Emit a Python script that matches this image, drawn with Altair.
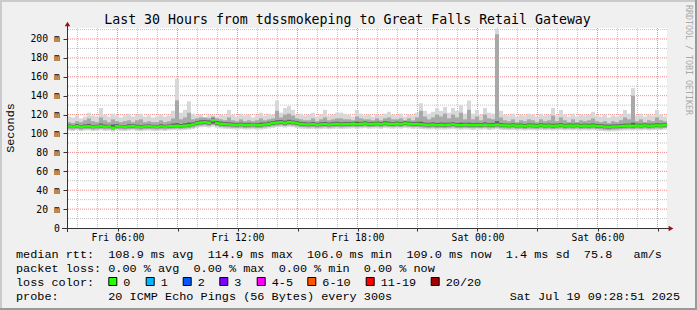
import altair as alt
import pandas as pd

# ---------------- data ----------------
T_START = 3.475          # hours since Fri 00:00  (Fri 03:28:51)
T_END = 33.475           # Sat 09:28:51
STEP_H = 0.2             # one sample every 12 minutes
Y_MAX = 211.64           # ms, top of plot

median_ms = [
    107.5, 107.2, 107.8, 107.0, 107.4, 107.6, 107.1, 107.3, 107.9, 107.2,
    107.4, 106.0, 107.6, 107.3, 107.1, 107.5, 107.8, 107.2, 107.0, 107.4,
    107.6, 107.3, 107.1, 107.5, 107.2, 107.7, 107.9, 108.2, 107.8, 108.3,
    108.6, 109.5, 110.8, 111.6, 112.0, 111.4, 114.0, 111.0, 110.2, 109.8,
    109.6, 109.2, 109.0, 109.4, 108.9, 109.1, 109.3, 108.8, 109.0, 109.5,
    110.2, 110.9, 111.5, 111.8, 111.2, 112.0, 111.6, 110.8, 110.0, 109.7,
    109.5, 109.8, 109.3, 109.6, 109.9, 109.4, 109.7, 110.1, 109.6, 109.8,
    110.0, 110.3, 109.8, 110.2, 110.5, 109.9, 110.1, 110.4, 109.8, 110.6,
    110.2, 109.9, 110.4, 110.0, 110.7, 110.3, 109.8, 110.1, 109.6, 109.3,
    109.1, 109.4, 108.9, 109.2, 109.0, 109.3, 109.6, 109.0, 108.8, 109.2,
    109.0, 108.7, 109.1, 108.9, 109.3, 108.6, 108.9, 109.4, 108.7, 108.5,
    108.3, 108.6, 108.2, 108.4, 108.0, 108.5, 108.3, 108.1, 108.6, 108.2,
    108.4, 108.0, 108.3, 108.6, 108.1, 108.4, 108.2, 108.5, 108.0, 108.3,
    108.1, 108.4, 107.9, 107.6, 107.2, 107.0, 107.3, 107.4, 107.8, 108.1,
    108.3, 108.0, 108.4, 108.2, 108.5, 108.1, 108.3, 108.6, 108.4, 109.0,
]

hi_outer = [
    118, 117, 119, 116, 118, 122, 119, 118, 127, 120,
    118, 121, 119, 117, 119, 121, 118, 120, 121, 118,
    119, 117, 118, 120, 118, 119, 124, 158, 122, 125,
    134, 121, 119, 120, 117, 119, 119, 118, 120, 119,
    125, 120, 118, 121, 119, 120, 117, 119, 122, 119,
    121, 120, 135, 122, 127, 129, 125, 120, 121, 119,
    120, 122, 118, 120, 125, 119, 120, 122, 122, 121,
    120, 118, 125, 121, 119, 120, 118, 120, 119, 121,
    123, 120, 119, 121, 118, 120, 119, 122, 132, 124,
    121, 123, 127, 124, 128, 122, 127, 124, 130, 121,
    135, 121, 125, 120, 127, 122, 121, 211, 124, 120,
    119, 121, 118, 120, 119, 121, 120, 118, 121, 119,
    120, 127, 119, 125, 120, 118, 121, 118, 120, 119,
    120, 123, 119, 118, 120, 117, 119, 118, 120, 125,
    121, 148, 119, 121, 118, 120, 119, 125, 120, 118,
]

hi_mid = [
    112, 111, 113, 112, 114, 116, 113, 112, 117, 114,
    112, 115, 113, 112, 113, 114, 112, 114, 115, 112,
    113, 112, 112, 114, 112, 113, 116, 135, 115, 117,
    122, 115, 116, 117, 117, 116, 118, 116, 115, 114,
    117, 114, 113, 115, 113, 114, 113, 114, 116, 114,
    115, 116, 124, 117, 120, 121, 119, 116, 115, 114,
    114, 116, 113, 115, 117, 114, 115, 116, 116, 115,
    115, 114, 118, 116, 115, 115, 114, 116, 114, 116,
    117, 115, 115, 116, 114, 116, 114, 117, 124, 118,
    115, 117, 120, 118, 121, 116, 120, 117, 122, 115,
    125, 115, 118, 114, 120, 116, 115, 205, 117, 114,
    113, 115, 112, 114, 113, 115, 114, 112, 115, 113,
    114, 119, 113, 117, 114, 112, 115, 112, 114, 113,
    114, 116, 113, 112, 113, 111, 113, 112, 114, 117,
    115, 140, 113, 115, 112, 114, 113, 117, 114, 113,
]

hi_inner = [
    109.5, 109.0, 110.0, 108.8, 109.6, 110.2, 109.0, 109.2, 110.5, 109.4,
    109.2, 109.5, 109.8, 109.0, 108.9, 109.8, 109.7, 109.3, 109.0, 109.4,
    109.6, 109.1, 109.0, 109.8, 109.1, 109.6, 110.5, 111.0, 110.0, 110.8,
    111.5, 111.8, 113.0, 114.0, 114.2, 113.8, 116.0, 113.2, 112.5, 112.0,
    111.8, 111.4, 111.0, 111.6, 110.9, 111.3, 111.2, 110.8, 111.5, 111.7,
    112.5, 113.0, 114.0, 114.2, 113.6, 114.5, 113.8, 113.0, 112.2, 111.9,
    111.5, 112.0, 111.3, 111.8, 112.2, 111.5, 111.9, 112.4, 111.8, 112.0,
    112.2, 112.4, 112.5, 112.3, 112.8, 112.0, 112.3, 112.6, 112.0, 113.0,
    112.5, 112.0, 112.6, 112.2, 112.9, 112.5, 112.0, 112.4, 112.5, 111.6,
    111.3, 111.8, 111.2, 111.6, 111.4, 111.5, 111.9, 111.2, 111.5, 111.4,
    111.5, 110.9, 111.4, 111.0, 111.8, 110.8, 111.2, 113.0, 111.0, 110.6,
    110.4, 110.8, 110.3, 110.6, 110.1, 110.7, 110.5, 110.2, 110.8, 110.4,
    110.6, 110.3, 110.5, 110.9, 110.2, 110.6, 110.4, 110.7, 110.2, 110.5,
    110.3, 110.7, 110.1, 109.8, 109.4, 109.2, 109.5, 109.6, 110.0, 110.4,
    110.5, 111.5, 110.6, 110.4, 110.7, 110.3, 110.5, 110.9, 110.6, 111.0,
]

lo_inner = [
    106.0, 105.8, 106.3, 105.6, 106.0, 106.1, 105.7, 105.9, 106.4, 105.8,
    106.0, 105.2, 106.1, 105.9, 105.7, 106.0, 106.3, 105.8, 105.6, 106.0,
    106.1, 105.9, 105.7, 106.0, 105.8, 106.2, 106.4, 106.6, 106.3, 106.7,
    107.0, 107.8, 109.0, 109.8, 110.2, 109.6, 110.5, 109.2, 108.5, 108.1,
    107.9, 107.6, 107.4, 107.8, 107.3, 107.5, 107.7, 107.2, 107.4, 107.9,
    108.5, 109.1, 109.7, 110.0, 109.4, 110.2, 109.8, 109.0, 108.3, 108.0,
    107.8, 108.1, 107.6, 107.9, 108.2, 107.7, 108.0, 108.4, 107.9, 108.1,
    108.3, 108.6, 108.1, 108.5, 108.8, 108.2, 108.4, 108.7, 108.1, 108.9,
    108.5, 108.2, 108.7, 108.3, 109.0, 108.6, 108.1, 108.4, 107.9, 107.6,
    107.4, 107.7, 107.2, 107.5, 107.3, 107.6, 107.9, 107.3, 107.1, 107.5,
    107.3, 107.0, 107.4, 107.2, 107.6, 106.9, 107.2, 107.7, 107.0, 106.8,
    106.6, 106.9, 106.5, 106.7, 106.3, 106.8, 106.6, 106.4, 106.9, 106.5,
    106.7, 106.3, 106.6, 106.9, 106.4, 106.7, 106.5, 106.8, 106.3, 106.6,
    106.4, 106.7, 106.2, 105.9, 105.5, 105.3, 105.6, 105.7, 106.1, 106.4,
    106.6, 106.3, 106.7, 106.5, 106.8, 106.4, 106.6, 106.9, 106.7, 107.3,
]

lo_mid = [
    104.6, 104.2, 104.9, 104.0, 104.5, 104.7, 104.1, 104.4, 105.0, 104.3,
    104.5, 103.6, 104.7, 104.4, 104.2, 104.6, 104.9, 104.3, 104.0, 104.5,
    104.7, 104.4, 104.2, 104.6, 104.3, 104.8, 105.0, 105.2, 104.9, 105.3,
    105.6, 106.3, 107.5, 108.2, 108.6, 108.0, 109.0, 107.8, 107.0, 106.6,
    106.4, 106.1, 105.9, 106.3, 105.8, 106.0, 106.2, 105.7, 105.9, 106.4,
    107.0, 107.6, 108.2, 108.5, 107.9, 108.7, 108.3, 107.5, 106.8, 106.5,
    106.3, 106.6, 106.1, 106.4, 106.7, 106.2, 106.5, 106.9, 106.4, 106.6,
    106.8, 107.1, 106.6, 107.0, 107.3, 106.7, 106.9, 107.2, 106.6, 107.4,
    107.0, 106.7, 107.2, 106.8, 107.5, 107.1, 106.6, 106.9, 106.4, 106.1,
    105.9, 106.2, 105.7, 106.0, 105.8, 106.1, 106.4, 105.8, 105.6, 106.0,
    105.8, 105.5, 105.9, 105.7, 106.1, 105.4, 105.7, 106.2, 105.5, 105.3,
    105.1, 105.4, 105.0, 105.2, 104.8, 105.3, 105.1, 104.9, 105.4, 105.0,
    105.2, 104.8, 105.1, 105.4, 104.9, 105.2, 105.0, 105.3, 104.8, 105.1,
    104.9, 105.2, 104.7, 104.4, 104.0, 103.8, 104.1, 104.2, 104.6, 104.9,
    105.1, 104.8, 105.2, 105.0, 105.3, 104.9, 105.1, 105.4, 105.2, 105.8,
]

lo_outer = [
    103.0, 102.6, 103.5, 102.4, 103.1, 103.2, 102.5, 102.9, 103.4, 102.7,
    103.0, 102.0, 103.2, 102.8, 102.6, 103.1, 103.4, 102.7, 102.4, 103.0,
    103.2, 102.8, 102.6, 103.1, 102.7, 103.3, 103.5, 103.6, 103.3, 103.8,
    104.0, 104.6, 105.8, 106.5, 106.9, 106.2, 107.2, 106.0, 105.3, 104.9,
    104.7, 104.4, 104.2, 104.6, 104.1, 104.3, 104.5, 104.0, 104.2, 104.7,
    105.3, 105.9, 106.5, 106.8, 106.2, 107.0, 106.6, 105.8, 105.0, 104.8,
    104.6, 104.9, 104.4, 104.7, 105.0, 104.5, 104.8, 105.2, 104.7, 104.9,
    105.1, 105.4, 104.9, 105.3, 105.6, 105.0, 105.2, 105.5, 104.9, 105.7,
    105.3, 105.0, 105.5, 105.1, 105.8, 105.4, 104.9, 105.2, 104.7, 104.4,
    104.2, 104.5, 104.0, 104.3, 104.1, 104.4, 104.7, 104.1, 103.9, 104.3,
    104.1, 103.8, 104.2, 104.0, 104.4, 103.7, 104.0, 104.5, 103.8, 103.6,
    103.4, 103.7, 103.3, 103.5, 103.1, 103.6, 103.4, 103.2, 103.7, 103.3,
    103.5, 103.1, 103.4, 103.7, 103.2, 103.5, 103.3, 103.6, 103.1, 103.4,
    103.2, 103.5, 103.0, 102.7, 102.3, 102.1, 102.4, 102.5, 102.9, 103.2,
    103.4, 103.1, 103.5, 103.3, 103.6, 103.2, 103.4, 103.7, 103.5, 104.1,
]

# axis / grid values
y_major = [20, 40, 60, 80, 100, 120, 140, 160, 180, 200]
y_minor = [10, 30, 50, 70, 90, 110, 130, 150, 170, 190, 210]
y_ticks = [0, 20, 40, 60, 80, 100, 120, 140, 160, 180, 200]
x_major = [6, 9, 12, 15, 18, 21, 24, 27, 30, 33]
x_minor = [4, 5, 7, 8, 10, 11, 13, 14, 16, 17, 19, 20, 22, 23, 25, 26, 28, 29, 31, 32]
x_tick_labels = {6: "Fri 06:00", 12: "Fri 12:00", 18: "Fri 18:00", 24: "Sat 00:00", 30: "Sat 06:00"}

title_text = "Last 30 Hours from tdssmokeping to Great Falls Retail Gateway"
legend_line1 = "median rtt:  108.9 ms avg  114.9 ms max  106.0 ms min  109.0 ms now  1.4 ms sd  75.8   am/s"
legend_line2 = "packet loss: 0.00 % avg  0.00 % max  0.00 % min  0.00 % now"
legend_line3 = "loss color:"
legend_line4 = "probe:       20 ICMP Echo Pings (56 Bytes) every 300s"
date_text = "Sat Jul 19 09:28:51 2025"
loss_labels = ["0", "1", "2", "3", "4-5", "6-10", "11-19", "20/20"]
loss_colors = ["#26ff00", "#00b8ff", "#0059ff", "#7e00ff", "#ff00ff", "#ff5500", "#ff0000", "#a10000"]

for arr in (hi_outer, hi_mid, hi_inner, lo_inner, lo_mid, lo_outer):
    assert len(arr) == len(median_ms)

# ---------------- build ----------------
n = len(median_ms)
t0 = [T_START + STEP_H * i for i in range(n)]
df = pd.DataFrame({
    "t": t0, "t2": [v + STEP_H for v in t0],
    "med": median_ms,
    "hi_o": hi_outer, "hi_m": hi_mid, "hi_i": hi_inner,
    "lo_i": lo_inner, "lo_m": lo_mid, "lo_o": lo_outer,
})

OX, OY = 67, 28  # plot origin in page pixels
MONO = "DejaVu Sans Mono"
LEG = "Liberation Mono"
LEG_SIZE = 11.83

xscale = alt.Scale(domain=[T_START, T_END], nice=False, zero=False)
yscale = alt.Scale(domain=[0, Y_MAX], nice=False, zero=True)

label_expr_x = " : ".join(
    f"datum.value == {k} ? '{v}'" for k, v in x_tick_labels.items()) + " : ''"

x_axis = alt.Axis(values=x_major, labelExpr=label_expr_x, domain=False, grid=False,
                  tickSize=3, tickColor="#333333", labelFont=MONO, labelFontSize=9.75,
                  labelColor="#000000", labelBaseline="alphabetic", labelPadding=9.7,
                  labelFlush=False, labelOverlap=False, title=None)
y_axis = alt.Axis(values=y_ticks,
                  labelExpr="datum.value == 0 ? '0\u00a0\u00a0' : datum.value + '\u00a0m'",
                  domain=False, grid=False, tickSize=4, tickColor="#333333",
                  labelFont=MONO, labelFontSize=9.75, labelColor="#000000",
                  labelPadding=3.7, labelBaseline="middle", labelFlush=False,
                  labelOverlap=False, labelBound=False, title=None)


def X(field):
    return alt.X(field, scale=xscale, axis=x_axis, title=None)


def Y(field):
    return alt.Y(field, scale=yscale, axis=y_axis, title=None)


base = alt.Chart(df)
smoke_o = base.mark_rect(color="#d8d8d8").encode(
    x=X("t:Q"), x2="t2:Q", y=Y("lo_o:Q"), y2="hi_o:Q")
smoke_m = base.mark_rect(color="#a8a8a8").encode(
    x=X("t:Q"), x2="t2:Q", y=Y("lo_m:Q"), y2="hi_m:Q")
smoke_i = base.mark_rect(color="#606060").encode(
    x=X("t:Q"), x2="t2:Q", y=Y("lo_i:Q"), y2="hi_i:Q")

grid_x_minor = alt.Chart(pd.DataFrame({"h": x_minor})).mark_rule(
    color="#c4c4c4", strokeWidth=1, strokeDash=[1, 1]).encode(x=X("h:Q"))
grid_x_major = alt.Chart(pd.DataFrame({"h": x_major})).mark_rule(
    color="#f08a8a", strokeWidth=1, strokeDash=[1, 1]).encode(x=X("h:Q"))
grid_y_minor = alt.Chart(pd.DataFrame({"v": y_minor})).mark_rule(
    color="#c4c4c4", strokeWidth=1, strokeDash=[1, 1]).encode(y=Y("v:Q"))
grid_y_major = alt.Chart(pd.DataFrame({"v": y_major})).mark_rule(
    color="#f08a8a", strokeWidth=1, strokeDash=[1, 1]).encode(y=Y("v:Q"))

median_line = base.mark_rule(color="#26ff00", strokeWidth=2.5, strokeCap="butt").encode(
    x=X("t:Q"), x2="t2:Q", y=Y("med:Q"))

one = pd.DataFrame({"a": [0]})


def rule(x1, y1, x2, y2, color, width=1):
    return alt.Chart(one).mark_rule(color=color, strokeWidth=width).encode(
        x=alt.value(x1 - OX), y=alt.value(y1 - OY), x2=alt.value(x2 - OX), y2=alt.value(y2 - OY))


def text(s, x, y, size, font, align="left", baseline="alphabetic", angle=0, color="#000000"):
    s = s.replace(" ", "\u00a0")
    return alt.Chart(one).mark_text(fontSize=size, font=font, align=align, baseline=baseline,
                                    angle=angle, color=color).encode(
        x=alt.value(x - OX), y=alt.value(y - OY), text=alt.value(s))


def tri(x, y, shape, color="#9a1010", size=30):
    return alt.Chart(one).mark_point(shape=shape, filled=True, color=color, size=size,
                                     opacity=1).encode(x=alt.value(x - OX), y=alt.value(y - OY))


layers = [grid_x_minor, grid_y_minor, grid_x_major, grid_y_major,
          smoke_o, smoke_m, smoke_i, median_line]

# axis lines with arrows
layers += [
    rule(62, 228.5, 669, 228.5, "#333333"),
    rule(67.5, 232, 67.5, 26, "#333333"),
    tri(671, 228.5, "triangle-right"),
    tri(67.5, 24, "triangle-up"),
]

# texts
layers += [
    text(title_text, 347.5, 24, 13.25, MONO, align="center"),
    text("Seconds", 10, 128, LEG_SIZE, LEG, align="center", baseline="middle", angle=270),
    text("RRDTOOL / TOBI OETIKER", 688, 60, 8.3, MONO, align="center", baseline="middle",
         angle=90, color="#a8a8a8"),
    text(legend_line1, 16, 258, LEG_SIZE, LEG),
    text(legend_line2, 16, 272, LEG_SIZE, LEG),
    text(legend_line3, 16, 286, LEG_SIZE, LEG),
    text(legend_line4, 16, 300, LEG_SIZE, LEG),
    text(date_text, 680, 300, LEG_SIZE, LEG, align="right"),
]

box_x = [108.3, 145.7, 182.7, 219.3, 256.7, 307.3, 365.7, 430.7]
for lab, col, bx in zip(loss_labels, loss_colors, box_x):
    layers.append(alt.Chart(one).mark_rect(color=col, stroke="#000000", strokeWidth=1).encode(
        x=alt.value(bx + 0.5 - OX), x2=alt.value(bx + 8.5 - OX),
        y=alt.value(277.5 - OY), y2=alt.value(285.5 - OY)))
    layers.append(text(lab, bx + 15, 286, LEG_SIZE, LEG))

# frame shading
layers += [
    rule(0, 1, 697, 1, "#cbcbcb", 2),
    rule(1, 0, 1, 310, "#cbcbcb", 2),
    rule(696, 0, 696, 310, "#999999", 2),
    rule(0, 309, 697, 309, "#999999", 2),
]

chart = alt.layer(*layers).properties(
    width=600, height=200,
    padding={"left": OX, "top": OY, "right": 30, "bottom": 82},
    autosize=alt.AutoSizeParams(type="none"),
    background="#f0f0f0",
).configure_view(fill="#ffffff", strokeWidth=0).configure_axis(labelOverlap=False)

chart.save("out.html", embed_options={"renderer": "svg", "actions": False})
